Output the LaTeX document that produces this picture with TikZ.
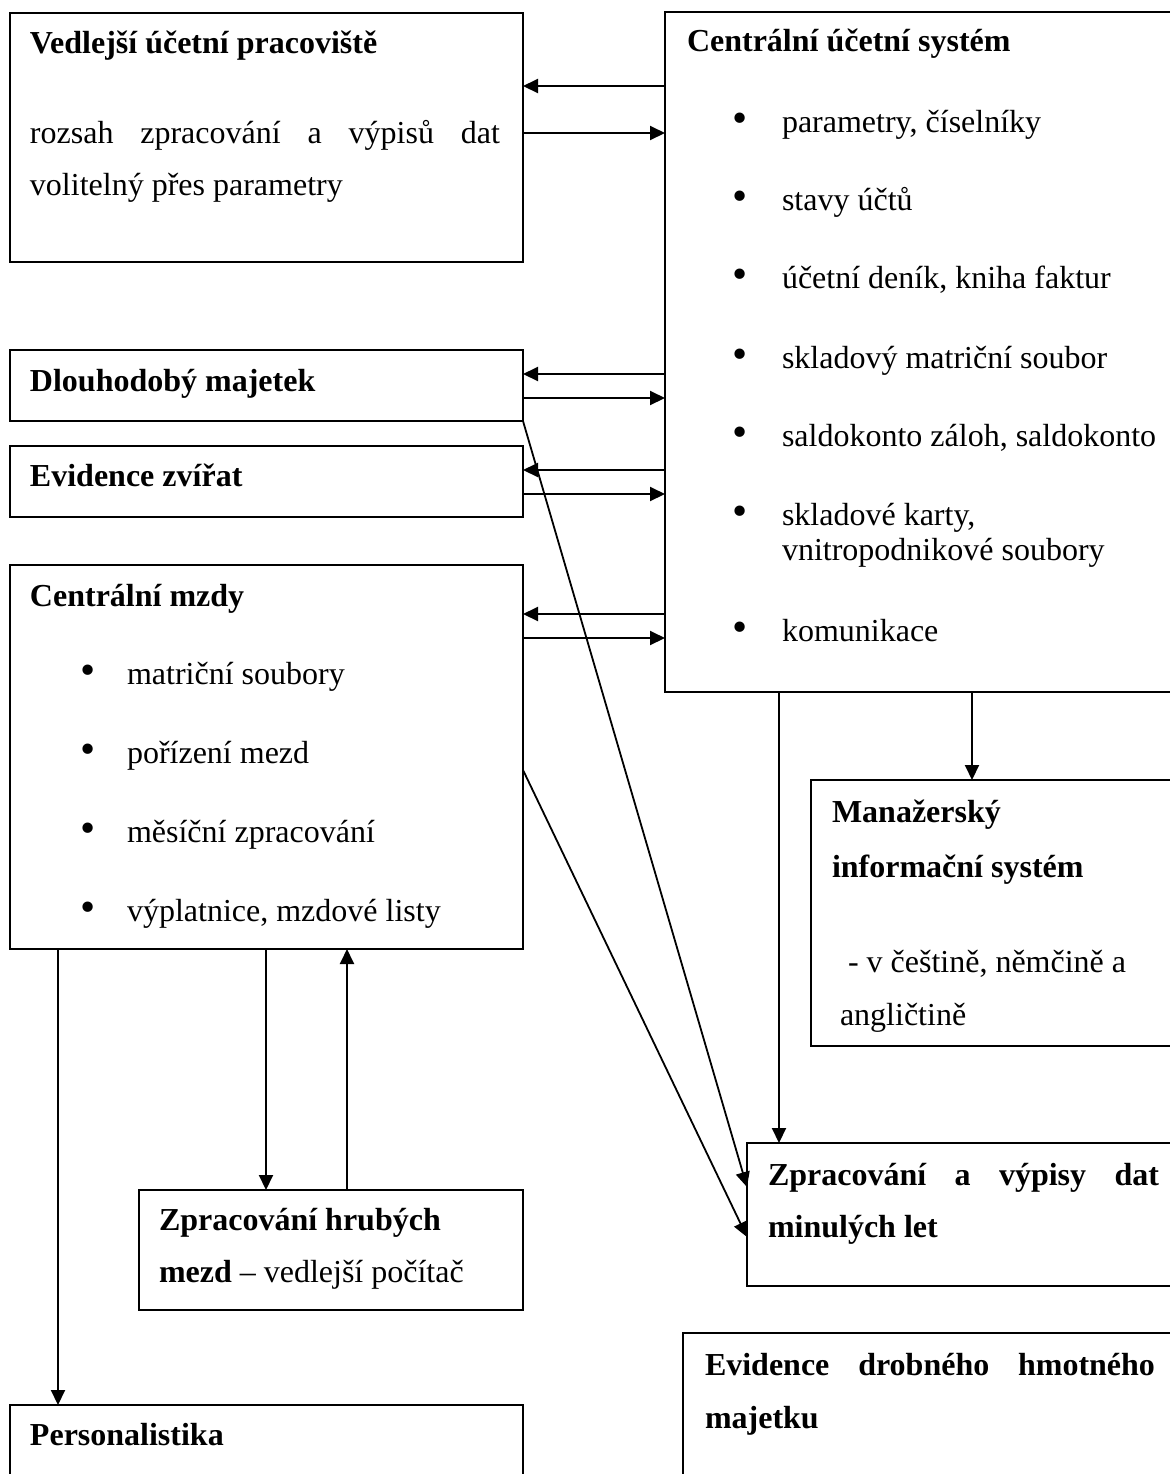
\documentclass[tikz,border=0pt]{standalone}
\usepackage{fontspec}
\setmainfont{Liberation Serif}
\usetikzlibrary{arrows.meta}
\newcommand\myfs{\fontsize{16}{18.4}\selectfont}
\newcommand\mybul{\scalebox{1.35}{•}}
\begin{document}
\begin{tikzpicture}[x=0.5pt,y=-0.5pt,
  box/.style={draw, line width=1pt, rectangle, anchor=north west, inner sep=0pt, outer sep=0pt},
  txt/.style={anchor=base west, inner sep=0pt, outer sep=0pt, font=\myfs},
  bul/.style={anchor=base, inner sep=0pt, outer sep=0pt, font=\myfs},
  arr/.style={line width=1pt, -{Triangle[length=7.5pt,width=7pt]}},
  diag/.style={line width=0.9pt, -{Triangle[length=7.5pt,width=7pt]}}]
\useasboundingbox (0,0) rectangle (1170,1474);
\clip (0,0) rectangle (1170,1474);
% boxes
\node[box, minimum width=256.5pt, minimum height=124.5pt] (vup) at (10,13) {};
\node[box, minimum width=267.5pt, minimum height=340pt] (cus) at (665,12) {};
\node[box, minimum width=256.5pt, minimum height=35.5pt] (dm) at (10,350) {};
\node[box, minimum width=256.5pt, minimum height=35.5pt] (ez) at (10,446) {};
\node[box, minimum width=256.5pt, minimum height=192pt] (cm) at (10,565) {};
\node[box, minimum width=194.5pt, minimum height=133pt] (mis) at (811,780) {};
\node[box, minimum width=226.5pt, minimum height=71.5pt] (zav) at (747,1143) {};
\node[box, minimum width=192pt, minimum height=60pt] (zhm) at (139,1190) {};
\node[box, minimum width=256.5pt, minimum height=60pt] (pers) at (10,1405) {};
\node[box, minimum width=258.5pt, minimum height=80pt] (edhm) at (683,1333) {};
% texts
\node[txt] (t1) at (30,53) {\textbf{Vedlejší účetní pracoviště}};
\node[txt] (t2) at (30,143) {\makebox[235pt][s]{rozsah zpracování a výpisů dat}};
\node[txt] (t3) at (30,195) {volitelný přes parametry};
\node[txt] (t4) at (687,51) {\textbf{Centrální účetní systém}};
\node[bul] (b1) at (740,132) {\mybul};
\node[txt] (t5) at (782,132) {parametry, číselníky};
\node[bul] (b2) at (740,210) {\mybul};
\node[txt] (t6) at (782,210) {stavy účtů};
\node[bul] (b3) at (740,288) {\mybul};
\node[txt] (t7) at (782,288) {účetní deník, kniha faktur};
\node[bul] (b4) at (740,368) {\mybul};
\node[txt] (t8) at (782,368) {skladový matriční soubor};
\node[bul] (b5) at (740,446) {\mybul};
\node[txt] (t9) at (782,446) {saldokonto záloh, saldokonto};
\node[bul] (b6) at (740,525) {\mybul};
\node[txt] (t10) at (782,525) {skladové karty,};
\node[txt] (t11) at (782,560) {vnitropodnikové soubory};
\node[bul] (b7) at (740,641) {\mybul};
\node[txt] (t12) at (782,641) {komunikace};
\node[txt] (t13) at (30,391) {\textbf{Dlouhodobý majetek}};
\node[txt] (t14) at (30,486) {\textbf{Evidence zvířat}};
\node[txt] (t15) at (30,606) {\textbf{Centrální mzdy}};
\node[bul] (b8) at (88,684) {\mybul};
\node[txt] (t16) at (127,684) {matriční soubory};
\node[bul] (b9) at (88,763) {\mybul};
\node[txt] (t17) at (127,763) {pořízení mezd};
\node[bul] (b10) at (88,842) {\mybul};
\node[txt] (t18) at (127,842) {měsíční zpracování};
\node[bul] (b11) at (88,921) {\mybul};
\node[txt] (t19) at (127,921) {výplatnice, mzdové listy};
\node[txt] (t20) at (832,822) {\textbf{Manažerský}};
\node[txt] (t21) at (832,877) {\textbf{informační systém}};
\node[txt] (t22) at (848,972) {- v češtině, němčině a};
\node[txt] (t23) at (840,1025) {angličtině};
\node[txt] (t24) at (768,1185) {\makebox[195.5pt][s]{\textbf{Zpracování a výpisy dat}}};
\node[txt] (t25) at (768,1237) {\textbf{minulých let}};
\node[txt] (t26) at (159,1230) {\textbf{Zpracování hrubých}};
\node[txt] (t27) at (159,1282) {\textbf{mezd} – vedlejší počítač};
\node[txt] (t28) at (30,1445) {\textbf{Personalistika}};
\node[txt] (t29) at (705,1375) {\makebox[225pt][s]{\textbf{Evidence drobného hmotného}}};
\node[txt] (t30) at (705,1428) {\textbf{majetku}};
% connector levels
\coordinate (h86) at (0,86);
\coordinate (h133) at (0,133);
\coordinate (h374) at (0,374);
\coordinate (h398) at (0,398);
\coordinate (h470) at (0,470);
\coordinate (h494) at (0,494);
\coordinate (h614) at (0,614);
\coordinate (h638) at (0,638);
\coordinate (h770) at (0,770);
\coordinate (h1187) at (0,1187);
\coordinate (h1237) at (0,1237);
\coordinate (v58) at (58,0);
\coordinate (v266) at (266,0);
\coordinate (v347) at (347,0);
\coordinate (v779) at (779,0);
\coordinate (v972) at (972,0);
% connectors
\draw[arr] (cus.west |- h86) -- (vup.east |- h86);
\draw[arr] (vup.east |- h133) -- (cus.west |- h133);
\draw[arr] (cus.west |- h374) -- (dm.east |- h374);
\draw[arr] (dm.east |- h398) -- (cus.west |- h398);
\draw[arr] (cus.west |- h470) -- (ez.east |- h470);
\draw[arr] (ez.east |- h494) -- (cus.west |- h494);
\draw[arr] (cus.west |- h614) -- (cm.east |- h614);
\draw[arr] (cm.east |- h638) -- (cus.west |- h638);
\draw[diag] (dm.south east) -- (zav.west |- h1187);
\draw[diag] (cm.east |- h770) -- (zav.west |- h1237);
\draw[arr] (cus.south -| v779) -- (zav.north -| v779);
\draw[arr] (cus.south -| v972) -- (mis.north -| v972);
\draw[arr] (cm.south -| v266) -- (zhm.north -| v266);
\draw[arr] (zhm.north -| v347) -- (cm.south -| v347);
\draw[arr] (cm.south -| v58) -- (pers.north -| v58);
\end{tikzpicture}
\end{document}
